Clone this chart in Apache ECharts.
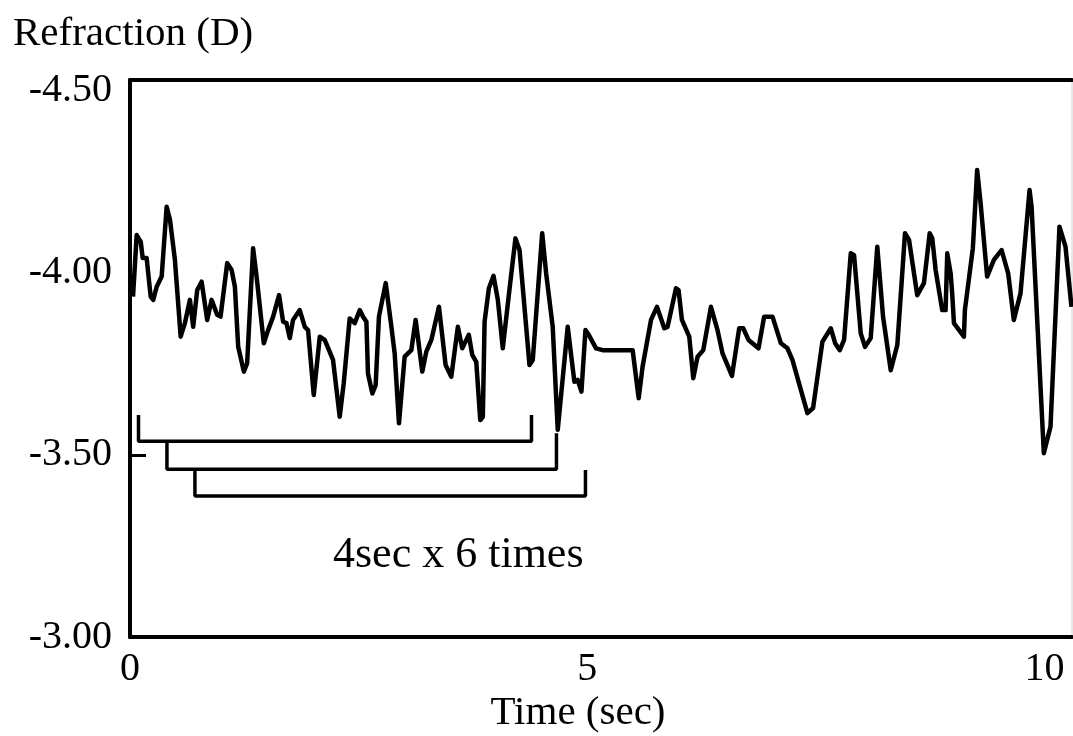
<!DOCTYPE html>
<html><head><meta charset="utf-8">
<script src="https://cdn.jsdelivr.net/npm/echarts@6/dist/echarts.min.js"></script>
<style>html,body{margin:0;padding:0;background:#fff}#c{width:1073px;height:736px}</style>
</head><body><div id="c"></div>
<script>
// Time (sec)
const timeSec = [0.033,0.073,0.117,0.139,0.182,0.226,0.254,0.292,0.346,0.401,0.437,0.491,0.554,0.601,0.655,0.691,0.735,0.783,0.844,0.892,0.953,0.990,1.063,1.111,1.147,1.183,1.245,1.281,1.346,1.384,1.463,1.510,1.565,1.630,1.674,1.711,1.747,1.783,1.856,1.911,1.947,2.009,2.075,2.129,2.220,2.293,2.337,2.402,2.457,2.512,2.548,2.585,2.602,2.650,2.686,2.722,2.796,2.858,2.894,2.941,3.003,3.076,3.123,3.196,3.240,3.295,3.378,3.451,3.513,3.585,3.633,3.705,3.742,3.786,3.830,3.858,3.877,3.924,3.975,4.022,4.076,4.157,4.215,4.259,4.368,4.404,4.507,4.550,4.622,4.677,4.786,4.859,4.895,4.936,4.980,5.016,5.096,5.168,5.496,5.562,5.605,5.697,5.762,5.842,5.878,5.970,5.998,6.035,6.115,6.159,6.206,6.268,6.352,6.424,6.479,6.582,6.661,6.705,6.763,6.872,6.934,7.025,7.117,7.189,7.243,7.407,7.469,7.571,7.663,7.710,7.761,7.808,7.881,7.917,7.990,8.037,8.099,8.171,8.234,8.318,8.390,8.474,8.518,8.608,8.681,8.744,8.772,8.809,8.881,8.918,8.936,8.973,8.990,9.009,9.118,9.129,9.216,9.263,9.301,9.372,9.446,9.530,9.602,9.664,9.737,9.836,9.858,9.992,10.065,10.163,10.229,10.294];
// Refraction (D)
const refraction = [-3.935,-4.104,-4.086,-4.041,-4.041,-3.935,-3.926,-3.962,-3.990,-4.182,-4.146,-4.036,-3.825,-3.863,-3.926,-3.852,-3.953,-3.976,-3.871,-3.926,-3.885,-3.880,-4.027,-4.008,-3.962,-3.797,-3.729,-3.752,-4.068,-3.990,-3.807,-3.843,-3.880,-3.939,-3.866,-3.862,-3.821,-3.871,-3.898,-3.852,-3.843,-3.665,-3.825,-3.816,-3.761,-3.605,-3.697,-3.875,-3.862,-3.898,-3.880,-3.866,-3.724,-3.669,-3.692,-3.880,-3.972,-3.852,-3.779,-3.587,-3.770,-3.788,-3.871,-3.729,-3.784,-3.816,-3.907,-3.747,-3.715,-3.852,-3.793,-3.830,-3.775,-3.756,-3.596,-3.605,-3.866,-3.958,-3.992,-3.926,-3.793,-3.972,-4.095,-4.063,-3.747,-3.761,-4.109,-3.999,-3.852,-3.569,-3.852,-3.701,-3.706,-3.674,-3.843,-3.830,-3.793,-3.788,-3.788,-3.656,-3.743,-3.871,-3.907,-3.848,-3.852,-3.958,-3.953,-3.871,-3.825,-3.711,-3.770,-3.788,-3.907,-3.843,-3.779,-3.717,-3.848,-3.848,-3.816,-3.793,-3.880,-3.880,-3.807,-3.793,-3.761,-3.615,-3.629,-3.811,-3.848,-3.807,-3.788,-3.816,-4.054,-4.049,-3.834,-3.797,-3.821,-4.072,-3.880,-3.733,-3.802,-4.109,-4.091,-3.939,-3.972,-4.109,-4.095,-4.008,-3.898,-3.898,-4.054,-3.999,-3.944,-3.862,-3.825,-3.898,-4.068,-4.283,-4.191,-3.990,-4.036,-4.063,-3.999,-3.871,-3.944,-4.228,-4.182,-3.505,-3.578,-4.127,-4.072,-3.907];
// 4-second window brackets: [start, end] in sec, [inner-tip, base] in D
const windowStart = [0.093, 0.404, 0.710];
const windowEnd = [4.390, 4.663, 4.980];
const windowTipLeft = [-3.610, -3.538, -3.461];
const windowTipRight = [-3.610, -3.560, -3.459];
const windowBase = [-3.538, -3.461, -3.387];
const yTicks = [-4.5, -4.0, -3.5, -3.0];
const xTicks = [0, 5, 10];

const serif = '"Liberation Serif","Times New Roman",serif';
const chart = echarts.init(document.getElementById('c'), null, {renderer: 'canvas'});
const mainData = timeSec.map((t, i) => [t, refraction[i]]);
const bracketSeries = windowStart.map((s, i) => ({
  type: 'line', symbol: 'none', silent: true, z: 3,
  lineStyle: {color: '#000', width: 3.5},
  data: [[s, windowTipLeft[i]], [s, windowBase[i]], [windowEnd[i], windowBase[i]], [windowEnd[i], windowTipRight[i]]]
}));
chart.setOption({
  animation: false,
  backgroundColor: '#fff',
  title: [
    {text: 'Refraction (D)', left: 8, top: 9, textStyle: {fontFamily: serif, fontSize: 41, fontWeight: 'normal', color: '#000'}},
    {text: 'Time (sec)', left: 573, top: 688, textAlign: 'center', textStyle: {fontFamily: serif, fontSize: 41, fontWeight: 'normal', color: '#000'}}
  ],
  grid: {left: 130, right: 1, top: 80, bottom: 99, show: true, borderColor: '#d0d0d0', borderWidth: 1},
  xAxis: [{
    type: 'value', min: 0, max: 10.3,
    axisLine: {show: true, lineStyle: {color: '#000', width: 4}},
    axisTick: {show: false},
    splitLine: {show: false},
    axisLabel: {customValues: xTicks, margin: 12, fontFamily: serif, fontSize: 40, color: '#000', formatter: v => String(v)}
  }, {
    type: 'value', min: 0, max: 10.3, position: 'top',
    axisLine: {show: true, lineStyle: {color: '#000', width: 4}},
    axisTick: {show: false}, axisLabel: {show: false}, splitLine: {show: false}
  }],
  yAxis: {
    type: 'value', inverse: true, min: -4.53, max: -3.0,
    axisLine: {show: true, lineStyle: {color: '#000', width: 4}},
    axisTick: {show: true, inside: true, length: 16, customValues: [-3.5], lineStyle: {color: '#000', width: 3}},
    splitLine: {show: false},
    axisLabel: {customValues: yTicks, margin: 18, fontFamily: serif, fontSize: 40, color: '#000', formatter: v => v.toFixed(2)}
  },
  graphic: [{
    type: 'text', left: 333, top: 533,
    style: {text: '4sec x 6 times', font: '44px ' + serif, fill: '#000'}
  }],
  series: [{
    type: 'line', symbol: 'none', z: 4,
    lineStyle: {color: '#000', width: 4.5, join: 'round'},
    data: mainData
  }].concat(bracketSeries)
});
</script></body></html>
